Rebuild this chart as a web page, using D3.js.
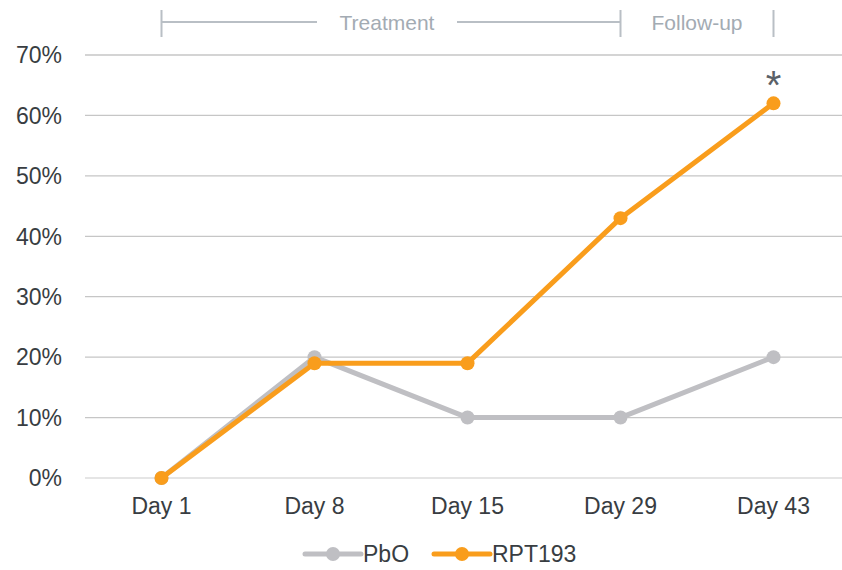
<!DOCTYPE html>
<html><head><meta charset="utf-8">
<script src="https://cdn.jsdelivr.net/npm/d3@7"></script>
<style>body{margin:0;background:#fff}svg{display:block}text{font-family:"Liberation Sans",Arial,sans-serif}</style>
</head><body><svg id="c" width="842" height="570"></svg>
<script>
const categories = ["Day 1","Day 8","Day 15","Day 29","Day 43"];
const pboValues = [0, 20, 10, 10, 20];
const rptValues = [0, 19, 19, 43, 62];
const yTicks = [0,10,20,30,40,50,60,70];
const seriesNames = ["PbO","RPT193"];
const colors = {"PbO":"#bfbfc3","RPT193":"#f99d1c"};

const svg = d3.select("#c");
const x = d3.scaleBand().domain(categories).range([85, 850]);
const y = d3.scaleLinear().domain([0, 70]).range([478, 55]);
const cx = d => x(d) + x.bandwidth()/2;

// gridlines
svg.append("g").selectAll("line").data(yTicks).join("line")
  .attr("x1", 85).attr("x2", 850)
  .attr("y1", d => y(d)).attr("y2", d => y(d))
  .attr("stroke", d => d === 0 ? "#dcdcdc" : "#c6c6c6").attr("stroke-width", 1.3);

// y labels
svg.append("g").selectAll("text").data(yTicks).join("text")
  .attr("x", 62).attr("y", d => y(d)).attr("dy", "0.36em")
  .attr("text-anchor", "end").attr("font-size", 23).attr("fill", "#383d42")
  .text(d => d + "%");

// x labels
svg.append("g").selectAll("text").data(categories).join("text")
  .attr("x", d => cx(d)).attr("y", 514)
  .attr("text-anchor", "middle").attr("font-size", 23).attr("fill", "#383d42")
  .text(d => d);

const line = d3.line().x(d => cx(d.c)).y(d => y(d.v));
const series = [
  {name:"PbO", vals: pboValues},
  {name:"RPT193", vals: rptValues}
];
series.forEach(s => {
  const pts = categories.map((c,i) => ({c, v: s.vals[i]}));
  svg.append("path").datum(pts).attr("d", line)
    .attr("fill","none").attr("stroke", colors[s.name]).attr("stroke-width", 5)
    .attr("stroke-linejoin","round");
  svg.append("g").selectAll("circle").data(pts).join("circle")
    .attr("cx", d => cx(d.c)).attr("cy", d => y(d.v)).attr("r", 7)
    .attr("fill", colors[s.name]);
});

// asterisk
svg.append("text").attr("x", cx("Day 43")).attr("y", 99)
  .attr("text-anchor","middle").attr("font-size", 40).attr("fill","#5b6168").text("*");

// top annotation
const ann = svg.append("g").attr("stroke", "#b9bfc5").attr("stroke-width", 2);
const x1 = cx("Day 1"), x29 = cx("Day 29"), x43 = cx("Day 43");
const ay = 22;
[x1, x29, x43].forEach(xx => ann.append("line").attr("x1", xx).attr("x2", xx).attr("y1", 10).attr("y2", 37));
const tMid = (x1 + x29) / 2, fMid = (x29 + x43) / 2;
ann.append("line").attr("x1", x1).attr("x2", tMid - 74).attr("y1", ay).attr("y2", ay);
ann.append("line").attr("x1", tMid + 66).attr("x2", x29).attr("y1", ay).attr("y2", ay);
svg.append("text").attr("x", tMid - 4).attr("y", ay).attr("dy","0.36em").attr("text-anchor","middle")
  .attr("font-size", 21).attr("fill", "#a3abb3").text("Treatment");
svg.append("text").attr("x", fMid).attr("y", ay).attr("dy","0.36em").attr("text-anchor","middle")
  .attr("font-size", 21).attr("fill", "#a3abb3").text("Follow-up");

// legend
const leg = [{name:"PbO", x: 305}, {name:"RPT193", x: 434}];
leg.forEach(l => {
  const g = svg.append("g");
  g.append("line").attr("x1", l.x).attr("x2", l.x + 56).attr("y1", 554).attr("y2", 554)
    .attr("stroke", colors[l.name]).attr("stroke-width", 5).attr("stroke-linecap","round");
  g.append("circle").attr("cx", l.x + 28).attr("cy", 554).attr("r", 7).attr("fill", colors[l.name]);
  g.append("text").attr("x", l.x + 58).attr("y", 554).attr("dy","0.36em")
    .attr("font-size", 23).attr("fill", "#383d42").text(l.name);
});
</script></body></html>
